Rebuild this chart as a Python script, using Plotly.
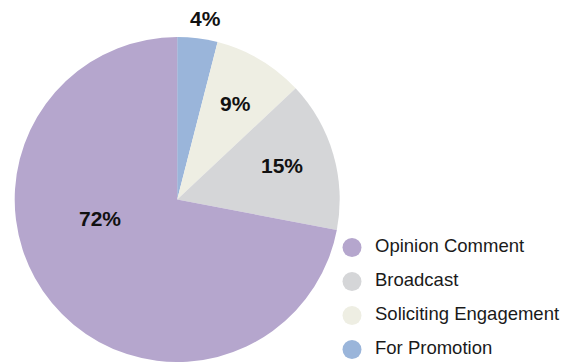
import math
import plotly.graph_objects as go

# Share of posts by type (legend order)
categories = ["Opinion Comment", "Broadcast", "Soliciting Engagement", "For Promotion"]
shares = [72, 15, 9, 4]
colors = ["#B5A6CD", "#D5D6D8", "#EEEEE3", "#9AB5DA"]

# Percentage label placement: radial distance (fraction of radius) and
# angular nudge (degrees) away from each slice's middle
label_radius = [0.49, 0.68, 0.69, 1.13]
label_nudge = [26.0, -1.5, 0.5, 1.6]

W, H = 563, 362
FONT = "Liberation Sans, Arial, Helvetica, sans-serif"
cx, cy, r = 177.2, 199.5, 162.5

fig = go.Figure()

# Pie: slices run clockwise from 12 o'clock, smallest first
rev = slice(None, None, -1)
fig.add_trace(go.Pie(
    labels=categories[rev],
    values=shares[rev],
    sort=False,
    direction="clockwise",
    rotation=0,
    marker=dict(colors=colors[rev], line=dict(width=0)),
    textinfo="none",
    showlegend=False,
    hoverinfo="label+percent",
    domain=dict(x=[(cx - r) / W, (cx + r) / W],
                y=[(H - cy - r) / H, (H - cy + r) / H]),
))

# Percentage labels, placed around each slice's middle angle
total = sum(shares)
start = {}
acc = 0.0
for name, v in zip(categories[rev], shares[rev]):
    start[name] = acc
    acc += v
annotations = []
for name, v, rf, nudge in zip(categories, shares, label_radius, label_nudge):
    mid = (start[name] + v / 2) / total * 360 + nudge
    rho = rf * r
    px = cx + rho * math.sin(math.radians(mid))
    py = cy - rho * math.cos(math.radians(mid))
    annotations.append(dict(
        x=px / W, y=(H - py) / H, xref="paper", yref="paper",
        text=f"<b>{v}%</b>", showarrow=False,
        xanchor="center", yanchor="middle",
        font=dict(family=FONT, size=21, color="#111111"),
    ))

# Legend drawn as a small scatter panel: circle swatches with labels beside them
rows = list(range(len(categories)))
fig.add_trace(go.Scatter(
    x=[0] * len(categories), y=rows, mode="markers",
    marker=dict(symbol="circle", size=19, color=colors),
    xaxis="x", yaxis="y", showlegend=False, hoverinfo="skip",
))
fig.add_trace(go.Scatter(
    x=[23] * len(categories), y=rows, mode="text",
    text=categories, textposition="middle right",
    textfont=dict(family=FONT, size=18.5, color="#1a1a1a"),
    xaxis="x", yaxis="y", showlegend=False, hoverinfo="skip",
))

row0, step = 247.5, 34
fig.update_layout(
    width=W, height=H,
    margin=dict(l=0, r=0, t=0, b=0),
    paper_bgcolor="white", plot_bgcolor="rgba(0,0,0,0)",
    xaxis=dict(domain=[0, 1], range=[-352, W - 352], visible=False, fixedrange=True),
    yaxis=dict(domain=[0, 1], range=[(H - row0) / step, -row0 / step],
               visible=False, fixedrange=True),
    annotations=annotations,
)

fig.write_html("out.html", config={"displayModeBar": False})
